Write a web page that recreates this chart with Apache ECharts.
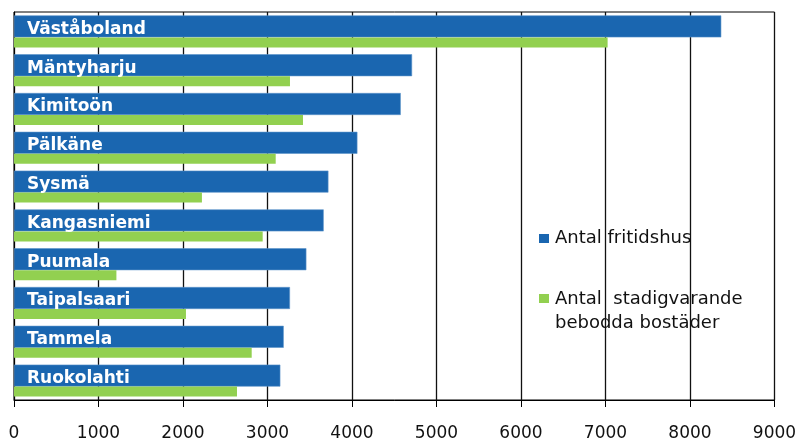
<!DOCTYPE html>
<html>
<head>
<meta charset="utf-8">
<script src="https://cdn.jsdelivr.net/npm/echarts@6/dist/echarts.min.js"></script>
<style>
html,body{margin:0;padding:0;background:#fff;}
#chart{width:796px;height:439px;}
</style>
</head>
<body>
<div id="chart"></div>
<script>
const categories = ['Väståboland','Mäntyharju','Kimitoön','Pälkäne','Sysmä','Kangasniemi','Puumala','Taipalsaari','Tammela','Ruokolahti'];
const seriesNames = ['Antal fritidshus', 'Antal  stadigvarande\nbebodda bostäder'];
const fritidshus = [8370, 4711, 4577, 4064, 3721, 3665, 3460, 3266, 3192, 3152];
const stadigvarande = [7025, 3266, 3420, 3097, 2224, 2943, 1212, 2035, 2813, 2639];
const xTicks = [0, 1000, 2000, 3000, 4000, 5000, 6000, 7000, 8000, 9000];

const blue = '#1a66b0';
const green = '#92d050';
const font = 'DejaVu Sans';

const chart = echarts.init(document.getElementById('chart'), null, {renderer: 'canvas'});
chart.setOption({
  animation: false,
  backgroundColor: '#fff',
  grid: {
    left: 14, right: 21.5, top: 12, bottom: 39,
    show: true, borderColor: '#000', borderWidth: 1,
    containLabel: false, outerBoundsMode: 'none'
  },
  xAxis: {
    type: 'value',
    min: xTicks[0], max: xTicks[xTicks.length - 1], interval: 1000,
    axisLine: {show: true, lineStyle: {color: '#000', width: 1}},
    axisTick: {show: true, length: 7, lineStyle: {color: '#000'}},
    axisLabel: {color: '#111', fontFamily: font, fontSize: 17, margin: 25, formatter: v => String(v)},
    splitLine: {show: true, lineStyle: {color: '#111', width: 1.3}}
  },
  yAxis: {
    type: 'category',
    data: categories,
    inverse: true,
    axisLine: {show: true, lineStyle: {color: '#000'}},
    axisTick: {show: false},
    axisLabel: {show: false},
    splitLine: {show: false}
  },
  series: [
    {
      name: seriesNames[0],
      type: 'bar',
      data: fritidshus,
      barWidth: 22,
      barGap: '0%',
      z: 5,
      itemStyle: {color: blue, borderColor: '#5d93c9', borderWidth: 0.6},
      label: {
        show: true,
        position: 'insideLeft',
        distance: 13,
        offset: [0, 3],
        formatter: p => p.name,
        color: '#fff',
        fontFamily: font,
        fontWeight: 'bold',
        fontSize: 17
      }
    },
    {
      name: seriesNames[1],
      type: 'bar',
      data: stadigvarande,
      barWidth: 10,
      barGap: '0%',
      z: 5,
      itemStyle: {color: green}
    }
  ],
  graphic: [
    {type: 'rect', shape: {x: 539, y: 234, width: 10, height: 9}, style: {fill: blue}},
    {type: 'text', x: 555, y: 238.5, style: {text: seriesNames[0], fill: '#111', font: '18px "DejaVu Sans"', verticalAlign: 'middle', align: 'left'}},
    {type: 'rect', shape: {x: 539, y: 294, width: 10, height: 9}, style: {fill: green}},
    {type: 'text', x: 555, y: 287, style: {text: seriesNames[1], fill: '#111', font: '18px "DejaVu Sans"', lineHeight: 24, verticalAlign: 'top', align: 'left'}}
  ]
});
</script>
</body>
</html>
